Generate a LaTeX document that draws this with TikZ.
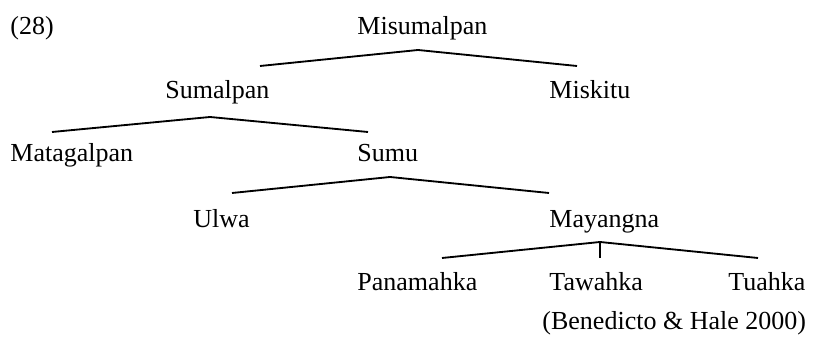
\documentclass[tikz,border=0pt]{standalone}
\usepackage{fontspec}
\setmainfont{Liberation Serif}
\begin{document}
\begin{tikzpicture}[x=0.4615pt,y=-0.4615pt,
  lbl/.style={anchor=base west,inner sep=0pt,font=\fontsize{12}{14}\selectfont},
  branch/.style={line width=0.85pt,line join=miter}]
\useasboundingbox (0,0) rectangle (814,343);
% texts
\node[lbl] (ex)   at (10,35)  {(28)};
\node[lbl] (misu) at (357,35) {Misumalpan};
\node[lbl] (suma) at (165,99) {Sumalpan};
\node[lbl] (misk) at (549,99) {Miskitu};
\node[lbl] (mata) at (10,162) {Matagalpan};
\node[lbl] (sumu) at (357,162) {Sumu};
\node[lbl] (ulwa) at (193,228) {Ulwa};
\node[lbl] (maya) at (549,228) {Mayangna};
\node[lbl] (pana) at (357,291) {Panamahka};
\node[lbl] (tawa) at (549,291) {Tawahka};
\node[lbl] (tuah) at (728,291) {Tuahka};
\node[lbl] (cite) at (542,330) {(Benedicto \& Hale 2000)};
% branch points
\coordinate (a1) at (418,50);  \coordinate (l1) at (260,66);  \coordinate (r1) at (577,66);
\coordinate (a2) at (210,117); \coordinate (l2) at (52,132);  \coordinate (r2) at (368,132);
\coordinate (a3) at (390,177); \coordinate (l3) at (232,193); \coordinate (r3) at (549,193);
\coordinate (a4) at (600,242); \coordinate (l4) at (442,258); \coordinate (r4) at (758,258);
\coordinate (m4) at (600,258);
\draw[branch] (l1) -- (a1) -- (r1);
\draw[branch] (l2) -- (a2) -- (r2);
\draw[branch] (l3) -- (a3) -- (r3);
\draw[branch] (l4) -- (a4) -- (r4);
\draw[branch] (a4) -- (m4);
\end{tikzpicture}
\end{document}
